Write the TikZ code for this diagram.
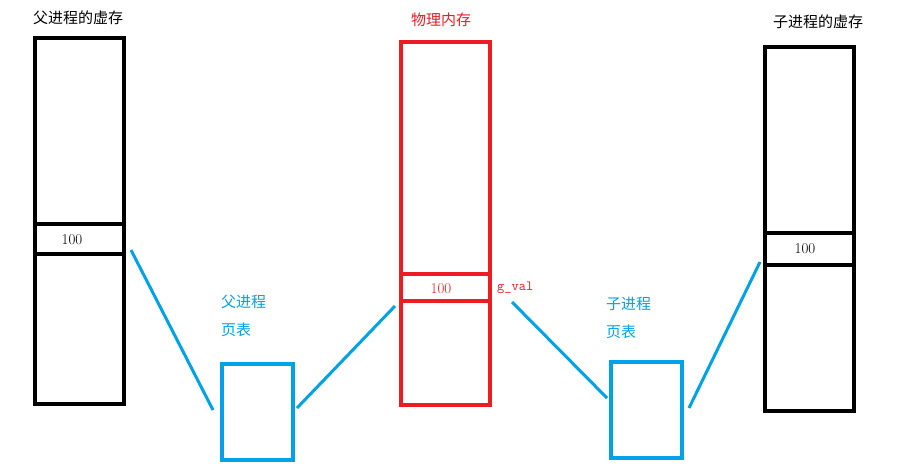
\documentclass[tikz,border=0pt]{standalone}
\usepackage{fontspec}
\newfontfamily\cjk{Noto Sans CJK SC}
\definecolor{pblue}{RGB}{0,162,232}
\definecolor{pred}{RGB}{237,28,36}
\begin{document}
\begin{tikzpicture}[x=1pt,y=-1pt,
  box/.style={line width=4pt},
  lbl/.style={font=\cjk\fontsize{15}{19}\selectfont,inner sep=0pt},
  num/.style={font=\fontsize{15}{18}\selectfont,inner sep=0pt},
  link/.style={pblue,line width=3pt}]
\useasboundingbox[fill=white] (0,0) rectangle (908,472);
% left
\draw[box] (35,38) rectangle (124,404);
\draw[box] (35,224) -- (124,224) (35,254) -- (124,254);
\node[num] (lv) at (72,240) {100};
\node[lbl] (lt) at (78,18) {父进程的虚存};
% middle
\draw[box,pred] (401,42) rectangle (490,405);
\draw[box,pred] (401,274) -- (490,274) (401,301) -- (490,301);
\node[num,pred] (mv) at (441,289) {100};
\node[pred,font=\ttfamily\fontsize{14}{16}\selectfont,anchor=west,inner sep=0pt] (gv) at (497,288) {g\_val};
\node[lbl,pred] (mt) at (441,20) {物理内存};
% right
\draw[box] (765,47) rectangle (854,411);
\draw[box] (765,233) -- (854,233) (765,265) -- (854,265);
\node[num] (rv) at (805,249) {100};
\node[lbl] (rt) at (818,22) {子进程的虚存};
% page tables
\draw[box,pblue] (222,364) rectangle (293,460);
\node[lbl,pblue,align=left,anchor=north west,font=\cjk\fontsize{15}{28}\selectfont] (pl) at (221,295) {父进程\\页表};
\draw[box,pblue] (611,362) rectangle (682,458);
\node[lbl,pblue,align=left,anchor=north west,font=\cjk\fontsize{15}{28}\selectfont] (pr) at (606,297) {子进程\\页表};
% links
\coordinate (a1) at (131,250); \coordinate (a2) at (213,410);
\coordinate (b1) at (297,408); \coordinate (b2) at (395,306);
\coordinate (c1) at (512,302); \coordinate (c2) at (607,398);
\coordinate (d1) at (689,408); \coordinate (d2) at (760,262);
\draw[link] (a1) -- (a2);
\draw[link] (b1) -- (b2);
\draw[link] (c1) -- (c2);
\draw[link] (d1) -- (d2);
\end{tikzpicture}
\end{document}
